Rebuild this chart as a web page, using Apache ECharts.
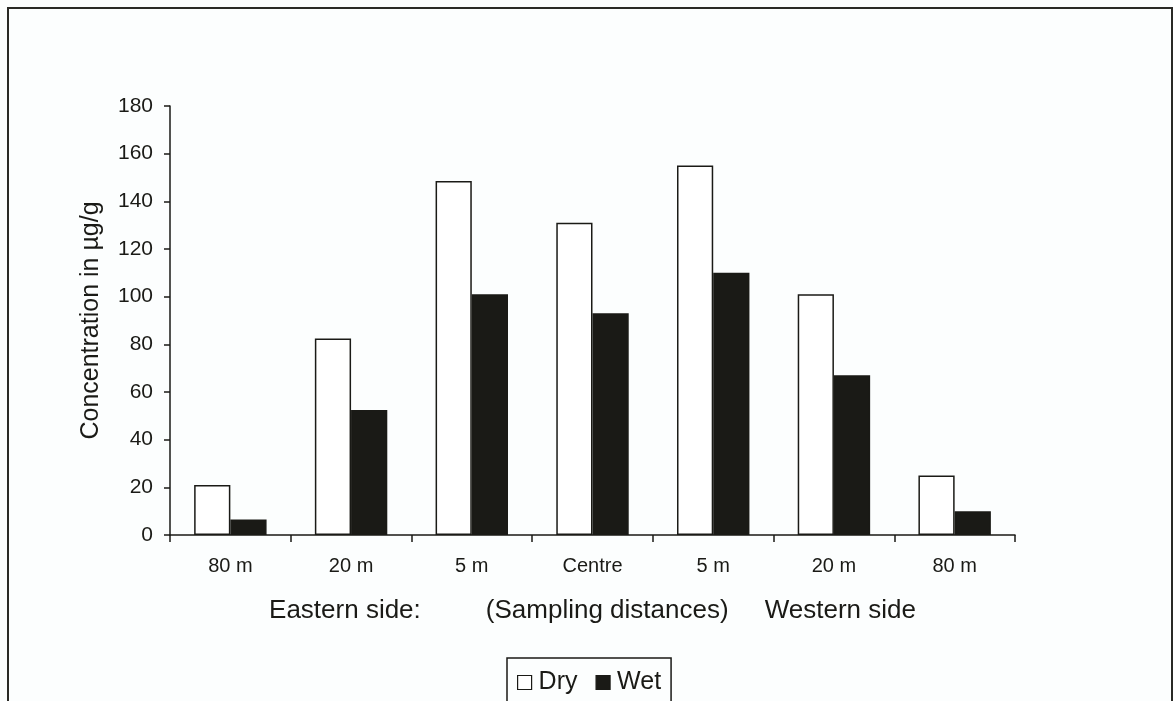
<!DOCTYPE html>
<html>
<head>
<meta charset="utf-8">
<script src="https://cdn.jsdelivr.net/npm/echarts@6/dist/echarts.min.js"></script>
<style>
html,body{margin:0;padding:0;background:#fcfefe;}
#c{width:1173px;height:701px;}
</style>
</head>
<body>
<div id="c"></div>
<script>
const categories = ['80 m', '20 m', '5 m', 'Centre', '5 m', '20 m', '80 m'];
const dryValues = [21, 82.5, 148.5, 131, 155, 101, 25];
const wetValues = [6.5, 52.5, 101, 93, 110, 67, 10];
const yTicks = { min: 0, max: 180, interval: 20 };
const xTitle = 'Eastern side:         (Sampling distances)     Western side';
const yTitle = 'Concentration in µg/g';

const ink = '#1a1a16';
const font = '"Liberation Sans", Arial, sans-serif';
const chart = echarts.init(document.getElementById('c'));
chart.setOption({
  backgroundColor: '#fcfefe',
  animation: false,
  textStyle: { fontFamily: font, color: ink },
  grid: { left: 170, right: 158, top: 106, bottom: 166 },
  graphic: [{
    type: 'rect',
    shape: { x: 8, y: 8, width: 1164, height: 720 },
    style: { fill: 'none', stroke: '#2a2a26', lineWidth: 2 },
    silent: true
  }],
  legend: {
    left: 507, top: 658,
    orient: 'horizontal',
    backgroundColor: '#fcfefe',
    borderColor: ink, borderWidth: 1.5,
    padding: [12, 10, 14, 10],
    itemWidth: 14, itemHeight: 14, itemGap: 18,
    icon: 'rect',
    textStyle: { fontFamily: font, fontSize: 25, color: ink, padding: [0, 0, 0, 2] },
    data: [
      { name: 'Dry', itemStyle: { color: '#ffffff', borderColor: ink, borderWidth: 1.2 } },
      { name: 'Wet', itemStyle: { color: ink, borderColor: ink, borderWidth: 1.2 } }
    ]
  },
  xAxis: {
    type: 'category',
    data: categories,
    boundaryGap: true,
    axisLine: { show: true, lineStyle: { color: ink, width: 1.5 } },
    axisTick: { show: true, length: 7, inside: false, lineStyle: { color: ink, width: 1.5 } },
    axisLabel: { fontFamily: font, fontSize: 20, color: ink, margin: 21 },
    name: xTitle,
    nameLocation: 'middle',
    nameGap: 63,
    nameTextStyle: { fontFamily: font, fontSize: 26, color: ink }
  },
  yAxis: {
    type: 'value',
    min: yTicks.min, max: yTicks.max, interval: yTicks.interval,
    splitLine: { show: false },
    axisLine: { show: true, lineStyle: { color: ink, width: 1.5 } },
    axisTick: { show: true, length: 6, lineStyle: { color: ink, width: 1.5 } },
    axisLabel: { fontFamily: font, fontSize: 21, color: ink, margin: 17 },
    name: yTitle,
    nameLocation: 'middle',
    nameGap: 66,
    nameRotate: 90,
    nameTextStyle: { fontFamily: font, fontSize: 25, color: ink }
  },
  series: [
    {
      name: 'Dry', type: 'bar', data: dryValues,
      barGap: '0%', barCategoryGap: '40%',
      itemStyle: { color: '#ffffff', borderColor: ink, borderWidth: 1.5 }
    },
    {
      name: 'Wet', type: 'bar', data: wetValues,
      barGap: '0%', barCategoryGap: '40%',
      itemStyle: { color: ink, borderColor: ink, borderWidth: 1.5 }
    }
  ]
});
</script>
</body>
</html>
